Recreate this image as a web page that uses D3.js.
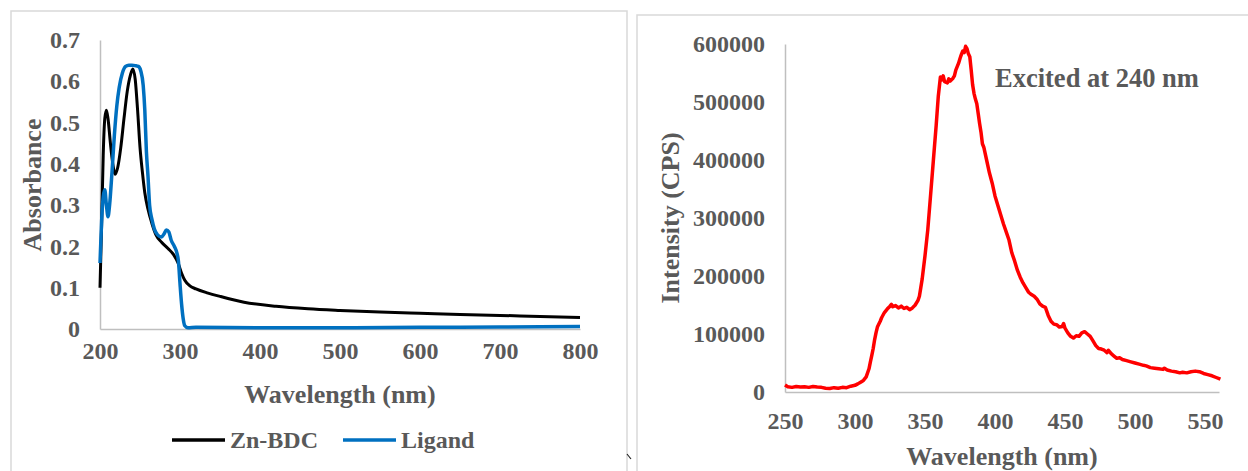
<!DOCTYPE html>
<html><head><meta charset="utf-8">
<script src="https://cdn.jsdelivr.net/npm/d3@7"></script>
<style>body{margin:0;background:#fff;} svg{display:block;} text{font-family:"Liberation Serif","Times New Roman",serif;font-weight:bold;fill:#595959;}</style>
</head><body>
<svg id="c" width="1248" height="471"></svg>
<script>
// ---- Left panel data (UV-Vis absorbance) ----
const absYTicks = [0, 0.1, 0.2, 0.3, 0.4, 0.5, 0.6, 0.7];
const absYTickLabels = ["0", "0.1", "0.2", "0.3", "0.4", "0.5", "0.6", "0.7"];
const absXTicks = [200, 300, 400, 500, 600, 700, 800];
const seriesNames = ["Zn-BDC", "Ligand"];
const znbdc = [
 [200,0.10],[202,0.25],[204,0.42],[206,0.51],[208,0.53],[210,0.51],[213,0.45],[216,0.40],[219,0.375],
 [222,0.39],[226,0.44],[230,0.51],[234,0.575],[238,0.615],[241,0.63],[244,0.605],[247,0.53],[250,0.44],
 [253,0.38],[256,0.33],[260,0.29],[265,0.255],[270,0.228],[277,0.21],[285,0.195],[292,0.18],[298,0.158],
 [302,0.135],[306,0.118],[312,0.105],[320,0.097],[335,0.087],[350,0.079],[380,0.065],[420,0.055],
 [460,0.049],[500,0.045],[550,0.041],[600,0.038],[650,0.035],[700,0.033],[750,0.030],[800,0.028]
];
const ligand = [
 [200,0.16],[202,0.26],[204,0.32],[206,0.337],[208,0.30],[210,0.272],[212,0.30],[215,0.38],[218,0.47],
 [221,0.54],[224,0.585],[228,0.62],[232,0.636],[236,0.639],[240,0.639],[244,0.638],[248,0.636],[251,0.625],
 [254,0.59],[256,0.53],[258,0.43],[260,0.37],[262,0.30],[265,0.265],[268,0.242],[272,0.228],[277,0.223],
 [280,0.23],[283,0.24],[286,0.235],[289,0.215],[293,0.20],[296,0.185],[298,0.165],[300,0.11],[302,0.06],
 [304,0.025],[306,0.008],[310,0.003],[320,0.004],[400,0.003],[500,0.003],[600,0.004],[700,0.005],[800,0.006]
];
// ---- Right panel data (PL emission) ----
const plYTicks = [0, 100000, 200000, 300000, 400000, 500000, 600000];
const plXTicks = [250, 300, 350, 400, 450, 500, 550];
const annotation = "Excited at 240 nm";
const emission = [
 [250,12000],[252,9000],[255,8000],[258,9500],[261,8500],[264,9000],[267,8000],[270,9500],[273,8500],[276,8000],
 [279,6500],[282,6000],[285,7500],[288,6500],[291,8000],[294,7500],[297,10000],[300,11500],[302,14000],[304,17000],
 [306,20000],[308,26000],[310,40000],[311,52000],[312,63000],[313,75000],[314,90000],[315,102000],[316,112000],
 [318,122000],[319,128000],[321,137000],[323,143000],[325,148000],[326,151000],[327,147000],[329,149000],[331,145000],
 [333,148000],[335,144000],[337,146000],[339,142000],[341,145000],[343,150000],[345,158000],[346,165000],[347,180000],
 [348,195000],[349,215000],[350,235000],[352,280000],[354,340000],[356,400000],[358,460000],[359.5,510000],[361,543000],
 [362,538000],[363,545000],[364,535000],[366,533000],[367,540000],[368,536000],[370,541000],[371,545000],[372,555000],
 [374,567000],[375,575000],[376,582000],[377,588000],[378,585000],[379,596000],[380,592000],[381,583000],[382,578000],
 [383,555000],[384,530000],[385,515000],[386,505000],[387,497000],[388,480000],[389,463000],[390,448000],[391,428000],
 [392,422000],[394,400000],[396,378000],[398,360000],[400,338000],[402,322000],[404,306000],[406,290000],[408,276000],
 [410,262000],[412,240000],[414,226000],[416,210000],[418,198000],[420,188000],[422,180000],[424,172000],[426,168000],
 [428,165000],[430,160000],[432,152000],[434,148000],[436,146000],[438,132000],[440,122000],[442,117000],[444,116000],
 [446,112000],[448,113000],[449,118000],[450,110000],[452,102000],[454,96000],[456,93000],[458,97000],[460,96000],
 [462,102000],[464,104000],[466,100000],[468,96000],[470,88000],[472,80000],[474,75000],[476,74000],[478,72000],
 [480,68000],[481,72000],[483,66000],[485,62000],[487,58000],[489,59000],[491,56000],[494,54000],[497,52000],
 [500,50000],[503,48000],[506,46000],[508,45000],[511,42000],[514,41000],[517,40000],[520,39000],[521,41000],
 [523,38000],[526,36000],[529,35000],[532,33000],[534,34000],[537,33000],[540,35000],[543,36000],[546,35000],
 [549,32000],[552,30000],[555,28000],[558,25000],[561,22000]
];

const svg = d3.select("#c");
// panel borders
svg.append("rect").attr("x",11).attr("y",11).attr("width",616).attr("height",480)
  .attr("fill","none").attr("stroke","#d9d9d9").attr("stroke-width",1.5);
svg.append("rect").attr("x",637).attr("y",15).attr("width",640).attr("height",480)
  .attr("fill","none").attr("stroke","#d9d9d9").attr("stroke-width",1.5);
svg.append("line").attr("x1",627).attr("y1",454).attr("x2",631).attr("y2",459)
  .attr("stroke","#222").attr("stroke-width",1.2);

// ---------- Left chart ----------
const xL = d3.scaleLinear().domain([200,800]).range([100,580]);
const yL = d3.scaleLinear().domain([0,0.7]).range([329,40]);
const gL = svg.append("g");
gL.append("g").attr("transform","translate(0,329)")
  .call(d3.axisBottom(xL).tickValues(absXTicks).tickSize(0).tickPadding(13).tickFormat(d3.format("d")))
  .call(g=>{g.select(".domain").attr("stroke","#bfbfbf").attr("stroke-width",1.5);
            g.selectAll("text").attr("font-size",24).style("fill","#595959").attr("dy","0.72em");});
gL.append("g").attr("transform","translate(100,0)")
  .call(d3.axisLeft(yL).tickValues(absYTicks).tickSize(0).tickPadding(20).tickFormat((d,i)=>absYTickLabels[i]))
  .call(g=>{g.select(".domain").attr("stroke","#bfbfbf").attr("stroke-width",1.5);
            g.selectAll("text").attr("font-size",24).style("fill","#595959");});
const lineL = d3.line().x(d=>xL(d[0])).y(d=>yL(d[1])).curve(d3.curveMonotoneX);
gL.append("path").datum(znbdc).attr("d",lineL).attr("fill","none").attr("stroke","#000").attr("stroke-width",3);
gL.append("path").datum(ligand).attr("d",lineL).attr("fill","none").attr("stroke","#0070c0").attr("stroke-width",3.5);
gL.append("text").attr("x",340).attr("y",403).attr("text-anchor","middle").attr("font-size",26).text("Wavelength (nm)");
gL.append("text").attr("transform","translate(41,185) rotate(-90)").attr("text-anchor","middle").attr("font-size",26).text("Absorbance");
// legend
const legColors = ["#000","#0070c0"];
const legX = [172, 343];
seriesNames.forEach((n,i)=>{
  gL.append("line").attr("x1",legX[i]).attr("x2",legX[i]+53).attr("y1",440).attr("y2",440)
    .attr("stroke",legColors[i]).attr("stroke-width",3.5);
  gL.append("text").attr("x",legX[i]+58).attr("y",448).attr("font-size",24).text(n);
});

// ---------- Right chart ----------
const xR = d3.scaleLinear().domain([250,560]).range([785,1219]);
const yR = d3.scaleLinear().domain([0,600000]).range([392,44]);
const gR = svg.append("g");
gR.append("g").attr("transform","translate(0,392)")
  .call(d3.axisBottom(xR).tickValues(plXTicks).tickSize(0).tickPadding(20).tickFormat(d3.format("d")))
  .call(g=>{g.select(".domain").attr("stroke","#bfbfbf").attr("stroke-width",1.5);
            g.selectAll("text").attr("font-size",24).style("fill","#595959").attr("dy","0.72em");});
gR.append("g").attr("transform","translate(785,0)")
  .call(d3.axisLeft(yR).tickValues(plYTicks).tickSize(0).tickPadding(20).tickFormat(d3.format("d")))
  .call(g=>{g.select(".domain").attr("stroke","#bfbfbf").attr("stroke-width",1.5);
            g.selectAll("text").attr("font-size",24).style("fill","#595959");});
const lineR = d3.line().x(d=>xR(d[0])).y(d=>yR(d[1]));
gR.append("path").datum(emission).attr("d",lineR).attr("fill","none").attr("stroke","#ff0000")
  .attr("stroke-width",3.5).attr("stroke-linejoin","round");
gR.append("text").attr("x",1002).attr("y",465).attr("text-anchor","middle").attr("font-size",26).text("Wavelength (nm)");
gR.append("text").attr("transform","translate(679,218) rotate(-90)").attr("text-anchor","middle").attr("font-size",26).text("Intensity (CPS)");
gR.append("text").attr("x",995).attr("y",87).attr("font-size",26.5).text(annotation);
</script>
</body></html>
